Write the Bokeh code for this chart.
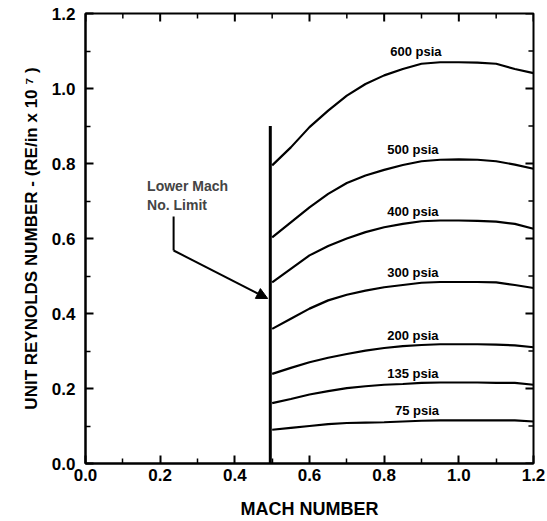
from bokeh.plotting import figure
from bokeh.models import Range1d, Label, Arrow, NormalHead, FixedTicker, PrintfTickFormatter
from bokeh.embed import file_html
from bokeh.resources import INLINE

mach = [0.50, 0.55, 0.60, 0.65, 0.70, 0.75, 0.80, 0.85, 0.90, 0.95, 1.00, 1.05, 1.10, 1.15, 1.20]
re_600 = [0.795, 0.843, 0.897, 0.941, 0.981, 1.012, 1.035, 1.052, 1.066, 1.070, 1.070, 1.069, 1.066, 1.052, 1.041]
re_500 = [0.603, 0.643, 0.683, 0.719, 0.748, 0.768, 0.783, 0.796, 0.806, 0.810, 0.811, 0.810, 0.806, 0.797, 0.786]
re_400 = [0.483, 0.519, 0.555, 0.580, 0.600, 0.617, 0.630, 0.639, 0.646, 0.648, 0.648, 0.647, 0.645, 0.639, 0.626]
re_300 = [0.359, 0.386, 0.413, 0.435, 0.450, 0.461, 0.470, 0.476, 0.482, 0.484, 0.484, 0.484, 0.483, 0.476, 0.468]
re_200 = [0.239, 0.255, 0.270, 0.282, 0.292, 0.301, 0.308, 0.313, 0.316, 0.318, 0.318, 0.318, 0.317, 0.315, 0.310]
re_135 = [0.161, 0.172, 0.184, 0.193, 0.201, 0.206, 0.210, 0.212, 0.215, 0.216, 0.216, 0.216, 0.215, 0.215, 0.210]
re_75 = [0.090, 0.095, 0.100, 0.105, 0.108, 0.109, 0.110, 0.112, 0.114, 0.115, 0.115, 0.115, 0.115, 0.115, 0.112]
series = [re_600, re_500, re_400, re_300, re_200, re_135, re_75]
labels = ["600 psia", "500 psia", "400 psia", "300 psia", "200 psia", "135 psia", "75 psia"]
label_x = [0.885, 0.877, 0.877, 0.877, 0.877, 0.877, 0.888]
label_y = [1.100, 0.837, 0.673, 0.510, 0.341, 0.239, 0.141]

limit_mach = 0.495
limit_top = 0.90
ticks = [0.0, 0.2, 0.4, 0.6, 0.8, 1.0, 1.2]
minor = [0.1, 0.3, 0.5, 0.7, 0.9, 1.1]

FONT = "Liberation Sans"

p = figure(width=547, height=521, output_backend="svg", toolbar_location=None,
           x_range=Range1d(0, 1.2), y_range=Range1d(0, 1.2),
           min_border_left=85, min_border_right=14, min_border_top=13, min_border_bottom=58,
           x_axis_label="MACH NUMBER", y_axis_label="UNIT REYNOLDS NUMBER - (RE/in x 10 \u2077 )")
p.grid.visible = False
p.outline_line_color = "black"
p.outline_line_width = 2

def style(ax):
    ax.ticker = FixedTicker(ticks=ticks, minor_ticks=minor)
    ax.formatter = PrintfTickFormatter(format="%.1f")
    ax.axis_line_color = "black"
    ax.axis_line_width = 2
    ax.major_tick_in = 8
    ax.major_tick_out = 0
    ax.minor_tick_in = 5
    ax.minor_tick_out = 0
    ax.major_tick_line_width = 2
    ax.minor_tick_line_width = 1.5
    ax.major_tick_line_color = "black"
    ax.minor_tick_line_color = "black"
    ax.major_label_text_font = FONT
    ax.major_label_text_font_style = "bold"
    ax.major_label_text_font_size = "17px"
    ax.major_label_text_color = "black"
    ax.axis_label_text_font = FONT
    ax.axis_label_text_font_style = "bold"
    ax.axis_label_text_font_size = "18px"
    ax.axis_label_text_color = "black"

for ax in p.xaxis:
    style(ax)
    ax.major_label_standoff = 5
    ax.axis_label_standoff = 15
for ax in p.yaxis:
    style(ax)
    ax.major_label_standoff = 10
    ax.axis_label_standoff = 8
    ax.axis_label_text_font_size = "17px"

# inward tick marks on the top and right edges (from tick lists)
mj_x, mj_y = 0.0215, 0.0213
mn_x, mn_y = 0.0135, 0.0133
for tl, lx, ly, w in [(ticks, mj_x, mj_y, 2), (minor, mn_x, mn_y, 1.5)]:
    n = len(tl)
    p.segment(x0=tl, y0=[1.2] * n, x1=tl, y1=[1.2 - ly] * n, line_color="black", line_width=w)
    p.segment(x0=[1.2] * n, y0=tl, x1=[1.2 - lx] * n, y1=tl, line_color="black", line_width=w)

for ys in series:
    p.line(mach, ys, line_color="black", line_width=2.2)

for t, lx, ly in zip(labels, label_x, label_y):
    p.add_layout(Label(x=lx, y=ly, text=t, text_font=FONT, text_font_style="bold",
                       text_font_size="13px", text_align="center", text_baseline="middle",
                       text_color="black"))

p.line([limit_mach, limit_mach], [0, limit_top], line_color="black", line_width=3)

p.add_layout(Label(x=0.165, y=0.741, text="Lower Mach", text_font=FONT, text_font_style="bold",
                   text_font_size="14px", text_align="left", text_baseline="middle"))
p.add_layout(Label(x=0.165, y=0.690, text="No. Limit", text_font=FONT, text_font_style="bold",
                   text_font_size="14px", text_align="left", text_baseline="middle"))
p.line([0.236, 0.236], [0.659, 0.568], line_color="black", line_width=2)
p.add_layout(Arrow(x_start=0.236, y_start=0.568, x_end=0.488, y_end=0.44,
                   line_color="black", line_width=2,
                   end=NormalHead(size=11, fill_color="black", line_color="black")))

open("out.html", "w").write(file_html(p, INLINE))
